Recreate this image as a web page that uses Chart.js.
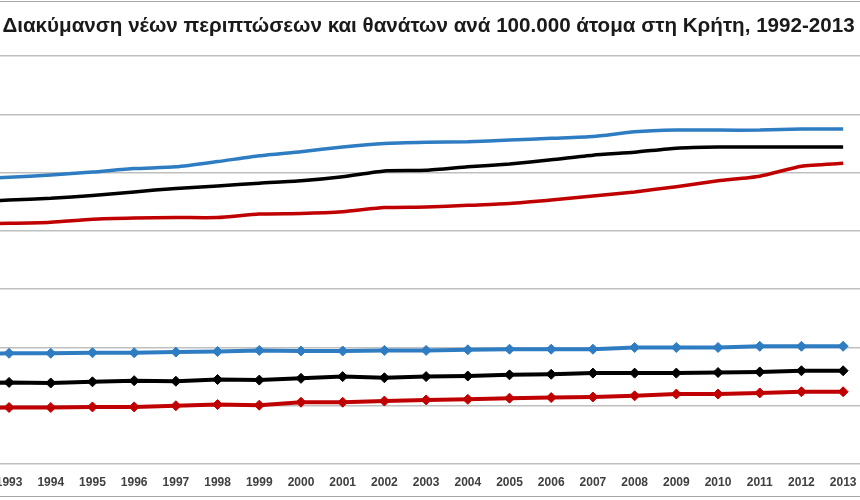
<!DOCTYPE html>
<html>
<head>
<meta charset="utf-8">
<script src="https://cdn.jsdelivr.net/npm/chart.js@4/dist/chart.umd.min.js"></script>
<style>
    body { margin: 0; width: 860px; height: 500px; overflow: hidden; position: relative; background: #fff; }
    #wrap { position: absolute; left: -60px; top: 0; width: 980px; height: 500px; }
    .frame { position: absolute; left: 0; width: 860px; height: 0; border-top: 1.5px solid #a6a6a6; }
</style>
</head>
<body>
<div class="frame" style="top: 1px;"></div>
<div id="wrap"><canvas id="line-chart" width="980" height="500"></canvas></div>
<div class="frame" style="top: 496px;"></div>
<script>
var years = ["1992", "1993", "1994", "1995", "1996", "1997", "1998", "1999", "2000", "2001", "2002",
    "2003", "2004", "2005", "2006", "2007", "2008", "2009", "2010", "2011", "2012", "2013"];

// new cases per 100.000 (upper lines)
var casesMen = [489, 492, 496, 501, 507, 510, 519, 529, 536, 544, 550, 552, 553, 556, 559, 562, 570, 573, 573, 573, 575, 575];
var casesAll = [449, 453, 456, 461, 467, 473, 477, 482, 486, 493, 503, 504, 510, 515, 522, 530, 535, 542, 544, 544, 544, 544];
var casesWomen = [412, 413, 415, 420, 422, 423, 423, 429, 430, 433, 440, 441, 444, 447, 453, 460, 467, 476, 486, 494, 511, 516];

// deaths per 100.000 (lower lines, with markers)
var deathsMen = [188, 190, 190, 191, 191, 192, 193, 195, 194, 194, 195, 195, 196, 197, 197, 197, 200, 200, 200, 202, 202, 202];
var deathsAll = [139, 140, 139, 141, 143, 142, 145, 144, 147, 150, 148, 150, 151, 153, 154, 156, 156, 156, 157, 158, 160, 160];
var deathsWomen = [96, 97, 97, 98, 98, 100, 102, 101, 106, 106, 108, 110, 111, 113, 114, 115, 117, 120, 120, 122, 124, 124];

var blue = "#2e7cc2";
var black = "#000000";
var red = "#c00000";

function caseLine(label, data, color) {
    return {
        label: label,
        data: data,
        borderColor: color,
        backgroundColor: color,
        borderWidth: 3.5,
        pointRadius: 0,
        tension: 0.2,
        fill: false
    };
}

function deathLine(label, data, color) {
    return {
        label: label,
        data: data,
        borderColor: color,
        backgroundColor: color,
        borderWidth: 4,
        pointStyle: "rectRot",
        pointRadius: 5,
        pointBorderWidth: 1,
        tension: 0,
        fill: false
    };
}

new Chart(document.getElementById("line-chart"), {
    type: "line",
    data: {
        labels: years,
        datasets: [
            caseLine("Νέες περιπτώσεις - Άνδρες", casesMen, blue),
            caseLine("Νέες περιπτώσεις - Σύνολο", casesAll, black),
            caseLine("Νέες περιπτώσεις - Γυναίκες", casesWomen, red),
            deathLine("Θάνατοι - Άνδρες", deathsMen, blue),
            deathLine("Θάνατοι - Σύνολο", deathsAll, black),
            deathLine("Θάνατοι - Γυναίκες", deathsWomen, red)
        ]
    },
    options: {
        responsive: false,
        animation: false,
        layout: { padding: { left: 6.5, right: 9.5, top: 0, bottom: 10.6 } },
        plugins: {
            legend: { display: false },
            tooltip: { enabled: false },
            title: {
                display: true,
                text: "Διακύμανση νέων περιπτώσεων και θανάτων ανά 100.000 άτομα στη Κρήτη, 1992-2013",
                color: "#1a1a1a",
                font: { family: "Liberation Sans", size: 20.6, weight: "bold" },
                padding: { top: 13.7, bottom: 17.7 }
            }
        },
        scales: {
            x: {
                offset: true,
                grid: { display: false, drawTicks: false },
                border: { display: false },
                ticks: {
                    autoSkip: false,
                    maxRotation: 0,
                    padding: 11,
                    color: "#404040",
                    font: { family: "Liberation Sans", size: 12, weight: "bold" }
                },
                afterFit: function (scale) { scale.height = 25.4; }
            },
            y: {
                min: 0,
                max: 700,
                ticks: { display: false, stepSize: 100 },
                grid: { color: "#bfbfbf", lineWidth: 1.5, drawTicks: false },
                border: { display: false },
                afterFit: function (scale) { scale.width = 0; }
            },
            // empty right-hand axis, only keeps the plot narrower than the title
            yRight: {
                position: "right",
                ticks: { display: false },
                grid: { display: false, drawTicks: false },
                border: { display: false },
                afterFit: function (scale) { scale.width = 46.5; }
            }
        }
    }
});
</script>
</body>
</html>
